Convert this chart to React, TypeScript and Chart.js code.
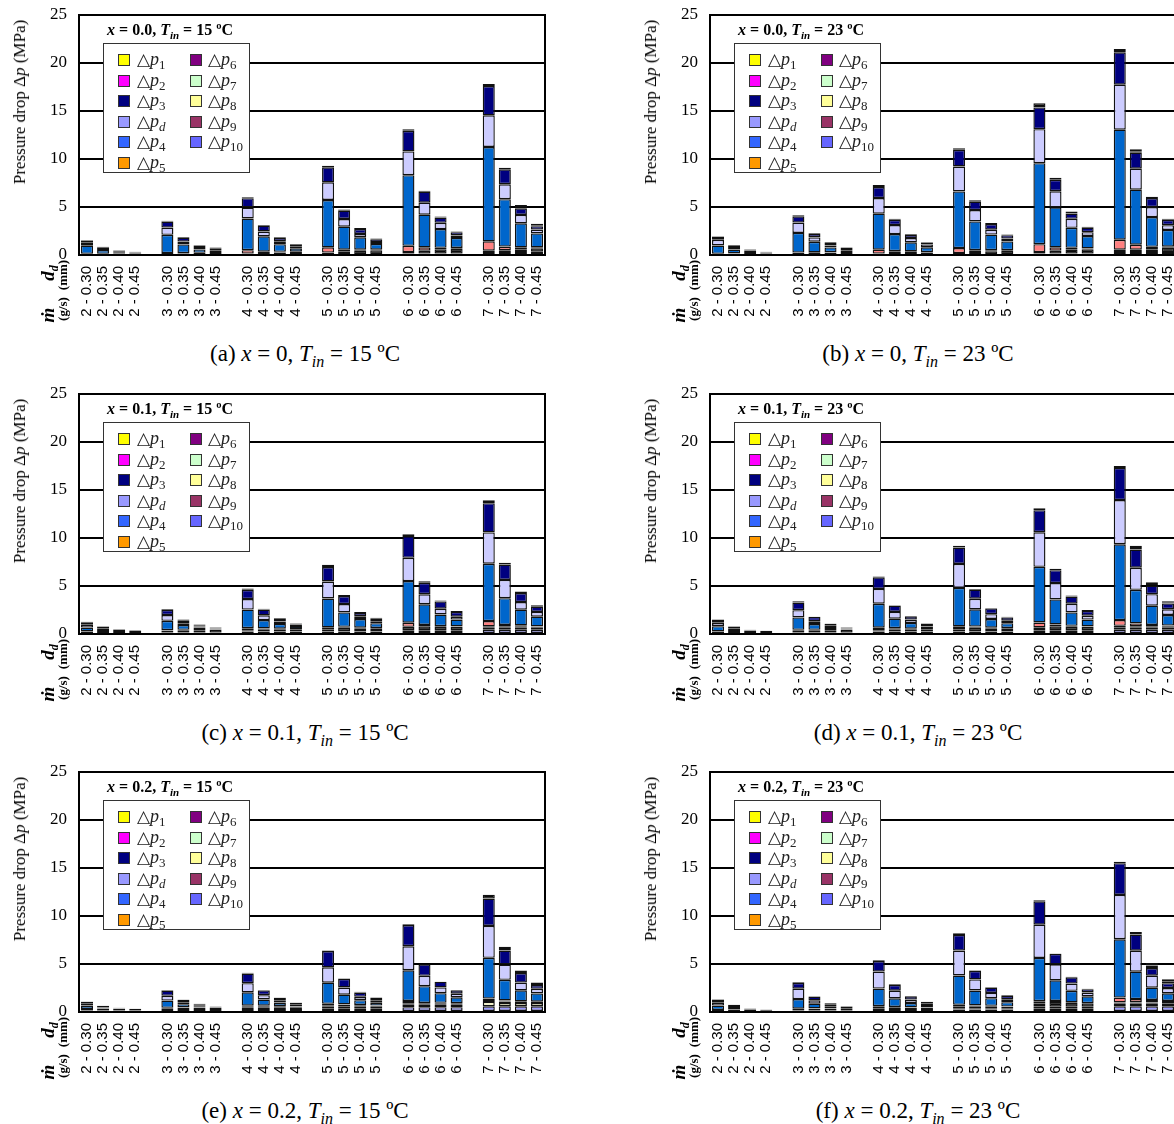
import React, { useEffect, useRef } from "react";
import { Chart, registerables } from "chart.js";
Chart.register(...registerables);

// ---------- categories / ticks ----------
const FLOWS = ["2", "3", "4", "5", "6", "7"];
const DIAMETERS = ["0.30", "0.35", "0.40", "0.45"];
const Y_TICKS = [0, 5, 10, 15, 20, 25];

// ---------- data (MPa), order: 2-0.30 ... 7-0.45 ----------
const NONE = [0,0,0,0, 0,0,0,0, 0,0,0,0, 0,0,0,0, 0,0,0,0, 0,0,0,0];

// (a) x = 0.0, Tin = 15
const A_P10 = [0,0,0,0, 0,0,0,0, 0.05,0.05,0.05,0.05, 0.1,0.1,0.1,0.1, 0.15,0.15,0.15,0.15, 0.2,0.2,0.2,0.2];
const A_P8 = [0,0,0,0, 0,0,0,0, 0,0,0,0, 0,0,0,0, 0,0,0,0, 0.1,0.1,0.1,0.15];
const A_P6 = [0.1,0.1,0.15,0.15, 0.1,0.15,0.2,0.2, 0.1,0.15,0.2,0.25, 0.15,0.25,0.35,0.4, 0.15,0.3,0.45,0.5, 0.15,0.2,0.3,0.35];
const A_P5 = [0.02,0.02,0.01,0.01, 0.1,0.05,0.03,0.02, 0.35,0.15,0.08,0.05, 0.55,0.2,0.1,0.05, 0.66,0.35,0.15,0.08, 0.97,0.38,0.2,0.1];
const A_P4 = [0.85,0.4,0.12,0.05, 1.9,0.9,0.35,0.2, 3.3,1.6,0.8,0.35, 4.93,2.4,1.3,0.6, 7.36,3.4,1.95,1.05, 9.83,4.93,2.5,1.45];
const A_PD = [0.3,0.1,0.05,0.03, 0.76,0.3,0.15,0.08, 1.15,0.5,0.3,0.15, 1.84,0.8,0.35,0.2, 2.47,1.25,0.65,0.25, 3.3,1.56,0.87,0.4];
const A_P3 = [0.25,0.2,0.1,0.05, 0.63,0.4,0.25,0.2, 0.97,0.6,0.35,0.22, 1.56,0.87,0.5,0.3, 2.15,1.15,0.55,0.35, 3.05,1.56,0.7,0.35];
const A_P2 = [0.04,0.05,0.06,0.06, 0.07,0.07,0.07,0.07, 0.1,0.08,0.08,0.08, 0.17,0.12,0.1,0.08, 0.17,0.1,0.1,0.08, 0.2,0.17,0.1,0.1];
const A_P1 = [0,0,0,0, 0,0,0,0, 0,0,0,0, 0,0,0,0, 0,0,0,0, 0,0,0.25,0.15];

// (b) x = 0.0, Tin = 23
const B_P10 = [0,0,0,0, 0,0,0,0, 0.05,0.05,0.05,0.05, 0.1,0.1,0.1,0.1, 0.15,0.15,0.15,0.15, 0.2,0.2,0.2,0.2];
const B_P8 = [0,0,0,0, 0,0,0,0, 0,0,0,0, 0,0,0,0, 0,0,0,0, 0.1,0.1,0.1,0.1];
const B_P6 = [0.1,0.15,0.2,0.15, 0.1,0.2,0.25,0.2, 0.1,0.15,0.25,0.2, 0.1,0.2,0.3,0.35, 0.15,0.3,0.4,0.45, 0.25,0.25,0.3,0.45];
const B_P5 = [0.02,0.02,0.01,0.01, 0.15,0.08,0.04,0.02, 0.4,0.2,0.08,0.05, 0.52,0.2,0.1,0.06, 0.83,0.35,0.2,0.08, 1.04,0.52,0.25,0.12];
const B_P4 = [0.87,0.4,0.2,0.08, 2.05,1.1,0.5,0.2, 3.75,1.78,0.94,0.5, 5.9,3.0,1.63,0.9, 8.44,4.17,2.08,1.3, 11.46,5.73,3.1,1.74];
const B_PD = [0.6,0.15,0.05,0.03, 1.08,0.45,0.2,0.08, 1.63,0.94,0.45,0.3, 2.6,1.18,0.5,0.3, 3.54,1.67,0.94,0.4, 4.69,2.19,1.04,0.5];
const B_P3 = [0.3,0.25,0.08,0.04, 0.65,0.35,0.25,0.25, 1.15,0.55,0.35,0.2, 1.74,0.87,0.6,0.35, 2.26,1.2,0.55,0.47, 3.37,1.67,0.94,0.55];
const B_P2 = [0.06,0.06,0.05,0.04, 0.1,0.08,0.08,0.07, 0.2,0.1,0.08,0.06, 0.15,0.15,0.1,0.08, 0.45,0.2,0.2,0.1, 0.15,0.15,0.15,0.12];
const B_P1 = [0,0,0,0, 0,0,0,0, 0,0,0,0, 0,0,0,0, 0,0,0,0, 0.2,0.2,0,0];

// (c) x = 0.1, Tin = 15
const C_P10 = [0.1,0.1,0.1,0.1, 0.15,0.15,0.15,0.15, 0.2,0.2,0.2,0.2, 0.2,0.25,0.25,0.25, 0.3,0.3,0.3,0.3, 0.45,0.45,0.45,0.45];
const C_P8 = [0,0,0,0, 0,0,0,0, 0.05,0.05,0.05,0.05, 0.05,0.05,0.05,0.05, 0.1,0.1,0.1,0.1, 0.2,0.2,0.2,0.2];
const C_P6 = [0.15,0.2,0.2,0.2, 0.2,0.25,0.25,0.3, 0.15,0.25,0.25,0.25, 0.25,0.35,0.3,0.3, 0.35,0.4,0.35,0.35, 0.15,0.1,0.15,0.1];
const C_P5 = [0.02,0.01,0.01,0.01, 0.05,0.03,0.02,0.01, 0.2,0.08,0.05,0.03, 0.2,0.1,0.05,0.03, 0.42,0.15,0.08,0.05, 0.55,0.2,0.1,0.05];
const C_P4 = [0.4,0.2,0.1,0.05, 0.97,0.5,0.25,0.1, 1.94,0.87,0.5,0.3, 3.0,1.5,0.9,0.5, 4.34,2.15,1.2,0.7, 5.97,2.78,1.63,1.0];
const C_PD = [0.3,0.1,0.05,0.02, 0.6,0.2,0.1,0.05, 1.1,0.5,0.25,0.15, 1.77,0.87,0.3,0.2, 2.43,1.04,0.6,0.3, 3.26,1.9,0.8,0.5];
const C_P3 = [0.25,0.15,0.03,0.02, 0.55,0.3,0.15,0.05, 0.97,0.6,0.3,0.1, 1.5,0.83,0.35,0.3, 2.26,1.2,0.76,0.5, 3.05,1.6,0.94,0.55];
const C_P2 = [0.05,0.04,0.03,0.02, 0.08,0.07,0.06,0.04, 0.12,0.08,0.06,0.05, 0.25,0.1,0.08,0.06, 0.2,0.15,0.1,0.1, 0.3,0.2,0.15,0.15];
const C_P1 = NONE;

// (d) x = 0.1, Tin = 23
const D_P10 = [0.1,0.1,0.1,0.1, 0.15,0.15,0.15,0.15, 0.2,0.2,0.2,0.2, 0.25,0.25,0.25,0.25, 0.3,0.3,0.3,0.3, 0.45,0.45,0.45,0.45];
const D_P8 = [0,0,0,0, 0,0,0,0, 0.05,0.05,0.05,0.05, 0.05,0.05,0.05,0.05, 0.1,0.1,0.1,0.1, 0.2,0.2,0.2,0.2];
const D_P6 = [0.15,0.2,0.2,0.2, 0.2,0.25,0.25,0.3, 0.15,0.25,0.25,0.25, 0.2,0.35,0.3,0.3, 0.3,0.4,0.35,0.35, 0.2,0.15,0.15,0.15];
const D_P5 = [0.02,0.01,0.01,0.01, 0.08,0.04,0.02,0.01, 0.25,0.1,0.05,0.03, 0.3,0.12,0.06,0.03, 0.5,0.2,0.1,0.05, 0.6,0.3,0.15,0.08];
const D_P4 = [0.55,0.2,0.05,0.02, 1.3,0.6,0.3,0.1, 2.5,1.0,0.6,0.25, 4.0,1.8,0.9,0.5, 5.8,2.6,1.4,0.7, 7.9,3.5,2.0,1.1];
const D_PD = [0.35,0.1,0.03,0, 0.75,0.3,0.15,0.05, 1.55,0.7,0.35,0.15, 2.5,1.1,0.5,0.25, 3.6,1.7,0.9,0.4, 4.6,2.3,1.2,0.6];
const D_P3 = [0.3,0.15,0.03,0, 0.8,0.45,0.2,0.05, 1.2,0.65,0.35,0.17, 1.7,0.95,0.6,0.35, 2.3,1.35,0.75,0.5, 3.35,1.9,0.9,0.6];
const D_P2 = [0.03,0.04,0.03,0.02, 0.12,0.01,0.03,0.04, 0.1,0.05,0,0, 0.2,0.08,0.04,0.07, 0.2,0.15,0.1,0.1, 0.2,0.15,0.15,0.12];
const D_P1 = [0,0,0,0, 0,0,0,0, 0,0,0,0, 0,0,0,0, 0,0,0,0, 0,0.25,0.2,0.1];

// (e) x = 0.2, Tin = 15
const E_P10 = [0.15,0.15,0.15,0.15, 0.2,0.2,0.2,0.2, 0.3,0.3,0.3,0.3, 0.35,0.35,0.35,0.35, 0.5,0.5,0.5,0.5, 0.6,0.6,0.6,0.6];
const E_P8 = [0.05,0.05,0.05,0.05, 0.1,0.1,0.1,0.1, 0.15,0.15,0.15,0.15, 0.2,0.2,0.2,0.2, 0.25,0.25,0.3,0.3, 0.45,0.35,0.35,0.35];
const E_P6 = [0.1,0.15,0.15,0.1, 0.1,0.15,0.15,0.15, 0.1,0.15,0.15,0.1, 0.15,0.2,0.15,0.1, 0.15,0.1,0.1,0.1, 0.1,0.15,0.1,0.1];
const E_P5 = [0.02,0.01,0.01,0.01, 0.04,0.02,0.01,0.01, 0.1,0.05,0.03,0.02, 0.15,0.05,0.03,0.02, 0.25,0.1,0.06,0.03, 0.25,0.1,0.06,0.03];
const E_P4 = [0.35,0.1,0.03,0.02, 0.75,0.35,0.15,0.05, 1.4,0.65,0.35,0.15, 2.2,1.0,0.5,0.3, 3.2,1.74,1.0,0.6, 4.24,2.15,1.15,0.85];
const E_PD = [0.2,0.07,0.03,0.01, 0.5,0.2,0.1,0.04, 0.95,0.45,0.25,0.1, 1.6,0.75,0.35,0.2, 2.5,1.08,0.6,0.38, 3.33,1.6,0.8,0.48];
const E_P3 = [0.2,0.1,0.03,0.01, 0.55,0.25,0.1,0.02, 1.0,0.5,0.25,0.15, 1.7,0.9,0.45,0.3, 2.2,1.2,0.6,0.35, 2.85,1.45,1.0,0.4];
const E_P2 = [0.03,0.02,0,0, 0.06,0.03,0.04,0.03, 0.1,0.05,0.02,0.03, 0.05,0.05,0.07,0.03, 0.1,0,0,0, 0.4,0.15,0.1,0.1];
const E_P1 = [0,0,0,0, 0,0,0,0, 0,0,0,0, 0,0,0,0, 0,0,0,0, 0,0.25,0.15,0.15];

// (f) x = 0.2, Tin = 23
const F_P10 = [0.1,0.1,0.1,0.08, 0.15,0.15,0.15,0.15, 0.2,0.2,0.2,0.2, 0.25,0.25,0.25,0.25, 0.4,0.4,0.4,0.4, 0.6,0.6,0.6,0.6];
const F_P8 = [0,0,0,0, 0.05,0.05,0.05,0.05, 0.1,0.1,0.1,0.1, 0.1,0.1,0.1,0.1, 0.15,0.15,0.15,0.15, 0.3,0.3,0.3,0.3];
const F_P6 = [0.1,0.15,0.15,0.1, 0.1,0.15,0.15,0.2, 0.1,0.15,0.15,0.15, 0.2,0.25,0.25,0.2, 0.3,0.5,0.4,0.35, 0.1,0.1,0.1,0.15];
const F_P5 = [0.02,0.01,0.01,0.01, 0.05,0.02,0.01,0.01, 0.2,0.07,0.04,0.02, 0.2,0.08,0.04,0.02, 0.28,0.1,0.06,0.03, 0.5,0.35,0.25,0.1];
const F_P4 = [0.45,0.15,0.05,0.03, 1.0,0.5,0.25,0.1, 1.84,0.9,0.45,0.25, 3.05,1.56,0.8,0.45, 4.5,2.15,1.2,0.7, 6.08,2.85,1.28,0.8];
const F_PD = [0.3,0.1,0.03,0.01, 1.08,0.35,0.15,0.04, 1.77,0.8,0.35,0.15, 2.6,1.15,0.55,0.3, 3.47,1.67,0.75,0.4, 4.62,2.19,1.25,0.55];
const F_P3 = [0.3,0.22,0.02,0.01, 0.6,0.38,0.15,0.05, 1.1,0.6,0.35,0.2, 1.63,0.9,0.55,0.35, 2.43,1.1,0.65,0.35, 3.3,1.67,0.8,0.5];
const F_P2 = [0.05,0.03,0.02,0.01, 0.07,0.03,0.03,0.03, 0.09,0.06,0.03,0.01, 0.17,0.05,0.06,0.07, 0.1,0.03,0.07,0.05, 0.16,0.02,0.27,0.2];
const F_P1 = [0,0,0,0, 0,0,0,0, 0,0,0,0, 0,0,0,0, 0,0,0,0, 0,0.25,0.25,0.2];

// ---------- series styling (stack order bottom -> top) ----------
const SERIES = [
  { key: "p10", bar: "#9999FF" },
  { key: "p9", bar: "#993366" },
  { key: "p8", bar: "#FFFFCC" },
  { key: "p7", bar: "#CCFFCC" },
  { key: "p6", bar: "#0a0a0a" },
  { key: "p5", bar: "#FF8080" },
  { key: "p4", bar: "#0066CC" },
  { key: "pd", bar: "#CCCCFF" },
  { key: "p3", bar: "#000080" },
  { key: "p2", bar: "#0a0a0a" },
  { key: "p1", bar: "#FFFF00" },
];

const LEGEND_COL1 = [
  { sub: "1", italicSub: false, color: "#FFFF00" },
  { sub: "2", italicSub: false, color: "#FF00FF" },
  { sub: "3", italicSub: false, color: "#000080" },
  { sub: "d", italicSub: true, color: "#9999FF" },
  { sub: "4", italicSub: false, color: "#3366FF" },
  { sub: "5", italicSub: false, color: "#FF9900" },
];
const LEGEND_COL2 = [
  { sub: "6", italicSub: false, color: "#800080" },
  { sub: "7", italicSub: false, color: "#CCFFCC" },
  { sub: "8", italicSub: false, color: "#FFFF99" },
  { sub: "9", italicSub: false, color: "#993366" },
  { sub: "10", italicSub: false, color: "#6666FF" },
];

const PANELS = [
  { id: "a", xs: "0", xTitle: "0.0", tin: "15", left: 79, top: 15,
    v: { p10: A_P10, p9: NONE, p8: A_P8, p7: NONE, p6: A_P6, p5: A_P5, p4: A_P4, pd: A_PD, p3: A_P3, p2: A_P2, p1: A_P1 } },
  { id: "b", xs: "0", xTitle: "0.0", tin: "23", left: 710, top: 15,
    v: { p10: B_P10, p9: NONE, p8: B_P8, p7: NONE, p6: B_P6, p5: B_P5, p4: B_P4, pd: B_PD, p3: B_P3, p2: B_P2, p1: B_P1 } },
  { id: "c", xs: "0.1", xTitle: "0.1", tin: "15", left: 79, top: 394,
    v: { p10: C_P10, p9: NONE, p8: C_P8, p7: NONE, p6: C_P6, p5: C_P5, p4: C_P4, pd: C_PD, p3: C_P3, p2: C_P2, p1: C_P1 } },
  { id: "d", xs: "0.1", xTitle: "0.1", tin: "23", left: 710, top: 394,
    v: { p10: D_P10, p9: NONE, p8: D_P8, p7: NONE, p6: D_P6, p5: D_P5, p4: D_P4, pd: D_PD, p3: D_P3, p2: D_P2, p1: D_P1 } },
  { id: "e", xs: "0.2", xTitle: "0.2", tin: "15", left: 79, top: 772,
    v: { p10: E_P10, p9: NONE, p8: E_P8, p7: NONE, p6: E_P6, p5: E_P5, p4: E_P4, pd: E_PD, p3: E_P3, p2: E_P2, p1: E_P1 } },
  { id: "f", xs: "0.2", xTitle: "0.2", tin: "23", left: 710, top: 772,
    v: { p10: F_P10, p9: NONE, p8: F_P8, p7: NONE, p6: F_P6, p5: F_P5, p4: F_P4, pd: F_PD, p3: F_P3, p2: F_P2, p1: F_P1 } },
];

// ---------- layout constants ----------
const PLOT_W = 466;
const PLOT_H = 240;
const Y_AXIS_W = 79;
const X_AXIS_H = 80;
const PAD_TOP = 15;
const SERIF = '"Liberation Serif", "Times New Roman", serif';
const SANS = '"Liberation Sans", Arial, sans-serif';

// labels with an empty slot between flow groups
const LABELS: string[] = [];
FLOWS.forEach((f, gi) => {
  DIAMETERS.forEach((d) => LABELS.push(`${f} - ${d}`));
  if (gi < FLOWS.length - 1) LABELS.push("");
});

function expand(values: number[]): (number | null)[] {
  const out: (number | null)[] = [];
  FLOWS.forEach((_, gi) => {
    for (let k = 0; k < DIAMETERS.length; k++) out.push(values[gi * DIAMETERS.length + k]);
    if (gi < FLOWS.length - 1) out.push(null);
  });
  return out;
}

const framePlugin = {
  id: "frame",
  afterDraw(chart: any) {
    const { ctx, chartArea } = chart;
    ctx.save();
    ctx.strokeStyle = "#000";
    ctx.lineWidth = 2;
    ctx.strokeRect(chartArea.left, chartArea.top, chartArea.right - chartArea.left, chartArea.bottom - chartArea.top);
    ctx.restore();
  },
};

function PanelChart({ p }: { p: any }) {
  const ref = useRef<HTMLCanvasElement>(null);
  useEffect(() => {
    if (!ref.current) return;
    const datasets = SERIES.map((s) => ({
      label: s.key,
      data: expand(p.v[s.key]),
      backgroundColor: s.bar,
      borderColor: "#111",
      borderWidth: 1.4,
      borderSkipped: false,
      barPercentage: 0.75,
      categoryPercentage: 1,
    }));
    const chart = new Chart(ref.current, {
      type: "bar",
      data: { labels: LABELS, datasets },
      options: {
        animation: false,
        responsive: false,
        events: [],
        layout: { padding: { top: PAD_TOP, right: 2, left: 0, bottom: 0 } },
        plugins: { legend: { display: false }, tooltip: { enabled: false }, title: { display: false } },
        scales: {
          x: {
            stacked: true,
            grid: { display: false, drawTicks: false },
            border: { display: true, color: "#000", width: 2 },
            ticks: {
              autoSkip: false,
              minRotation: 90,
              maxRotation: 90,
              padding: 11,
              color: "#000",
              font: { family: SANS, size: 15 },
            },
            afterFit: (s: any) => { s.height = X_AXIS_H; s.paddingLeft = 0; s.paddingRight = 0; },
          },
          y: {
            stacked: true,
            min: 0,
            max: 25,
            afterBuildTicks: (s: any) => { s.ticks = Y_TICKS.map((v) => ({ value: v })); },
            ticks: { padding: 12, color: "#000", font: { family: SERIF, size: 17 } },
            grid: { color: "#000", lineWidth: 2, drawTicks: false },
            border: { display: true, color: "#000", width: 2 },
            afterFit: (s: any) => { s.width = Y_AXIS_W; s.paddingTop = 0; s.paddingBottom = 0; },
          },
        },
      } as any,
      plugins: [framePlugin],
    });
    return () => chart.destroy();
  }, [p]);

  return (
    <canvas
      ref={ref}
      width={Y_AXIS_W + PLOT_W + 2}
      height={PAD_TOP + PLOT_H + X_AXIS_H}
      style={{ position: "absolute", left: p.left - Y_AXIS_W, top: p.top - PAD_TOP, display: "block" }}
    />
  );
}

function LegendBox({ left, top }: { left: number; top: number }) {
  const row = (e: any, i: number, col: number) => {
    const cy = 16 + i * 20.6;
    const sqX = col === 0 ? 14 : 86;
    const txX = col === 0 ? 33 : 104;
    return (
      <React.Fragment key={`${col}-${i}`}>
        <div style={{ position: "absolute", left: sqX, top: cy - 6, width: 10, height: 10, background: e.color, border: "1px solid #333" }} />
        <div style={{ position: "absolute", left: txX, top: cy - 12, fontFamily: SERIF, fontSize: 18, lineHeight: "22px", whiteSpace: "nowrap", color: "#222" }}>
          <span style={{ fontSize: 17 }}>△</span>
          <i>p</i>
          <span style={{ fontSize: 13, position: "relative", top: 4, fontStyle: e.italicSub ? "italic" : "normal" }}>{e.sub}</span>
        </div>
      </React.Fragment>
    );
  };
  return (
    <div style={{ position: "absolute", left, top, width: 145, height: 128, border: "1.5px solid #333", background: "#fff" }}>
      {LEGEND_COL1.map((e, i) => row(e, i, 0))}
      {LEGEND_COL2.map((e, i) => row(e, i, 1))}
    </div>
  );
}

function Overlay({ p }: { p: any }) {
  const L = p.left;
  const T = p.top;
  const captionX = L < 400 ? 305 : 918;
  const rot = (x: number, y: number, content: any, style: any = {}) => (
    <div style={{ position: "absolute", left: x, top: y, transform: "translate(-50%, -50%) rotate(-90deg)", whiteSpace: "nowrap", fontFamily: SERIF, ...style }}>
      {content}
    </div>
  );
  return (
    <>
      {rot(L - 59, T + 87, <span>Pressure drop Δ<i>p</i> (MPa)</span>, { fontSize: 17 })}
      <div style={{ position: "absolute", left: L + 28, top: T + 5, fontFamily: SERIF, fontSize: 16, fontWeight: "bold", whiteSpace: "nowrap", lineHeight: "20px" }}>
        <i>x</i> = {p.xTitle}, <i>T</i><span style={{ fontSize: 11, position: "relative", top: 4, fontStyle: "italic" }}>in</span> = {p.tin} ºC
      </div>
      <LegendBox left={L + 24} top={T + 28} />
      {rot(L - 31, T + 300, <i>ṁ</i>, { fontSize: 19, fontWeight: "bold" })}
      {rot(L - 31, T + 258, <span><i>d</i><span style={{ fontSize: 12, position: "relative", top: 4, fontStyle: "italic" }}>d</span></span>, { fontSize: 19, fontWeight: "bold" })}
      {rot(L - 16, T + 294, <span>(g/s)</span>, { fontSize: 13, fontWeight: "bold" })}
      {rot(L - 16, T + 260, <span>(mm)</span>, { fontSize: 13, fontWeight: "bold" })}
      <div style={{ position: "absolute", left: captionX, top: T + 339, transform: "translate(-50%, -50%)", fontFamily: SERIF, fontSize: 23, whiteSpace: "nowrap" }}>
        ({p.id}) <i>x</i> = {p.xs}, <i>T</i><span style={{ fontSize: 16, position: "relative", top: 6, fontStyle: "italic" }}>in</span> = {p.tin} ºC
      </div>
    </>
  );
}

export default function App() {
  return (
    <div style={{ position: "absolute", left: 0, top: 0, width: 1174, height: 1124, overflow: "hidden", background: "#fff" }}>
      {PANELS.map((p) => (
        <React.Fragment key={p.id}>
          <PanelChart p={p} />
          <Overlay p={p} />
        </React.Fragment>
      ))}
    </div>
  );
}
